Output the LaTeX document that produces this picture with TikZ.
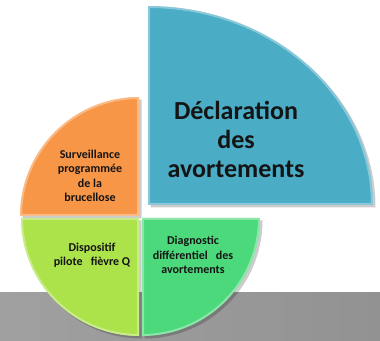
\documentclass[tikz,border=0pt]{standalone}
\usepackage{fontspec}
\setmainfont{Carlito}
\definecolor{cblue}{RGB}{75,172,198}
\definecolor{corange}{RGB}{247,150,70}
\definecolor{cyellow}{RGB}{172,226,74}
\definecolor{cgreen}{RGB}{76,217,123}
\definecolor{bandL}{RGB}{160,160,160}
\definecolor{bandR}{RGB}{146,146,146}
\definecolor{txt}{RGB}{20,20,20}
\tikzset{
  shadowfill/.style={fill=black,opacity=0.2},
  glow/.style={draw=white,opacity=0.35,line width=4pt},
  bigtext/.style={align=center,font=\fontsize{26}{29}\selectfont\bfseries,text=txt,inner sep=0pt},
  smalltext/.style={align=center,font=\fontsize{12}{14.5}\selectfont\bfseries,text=txt,inner sep=0pt}
}
\def\blueshape{(148,135) -- (148,334) arc[start angle=90,end angle=0,x radius=225,y radius=199] -- cycle}
\def\orangeshape{(139,124) -- (20,124) arc[start angle=180,end angle=90,radius=119] -- cycle}
\def\yellowshape{(139,122) -- (139,4) arc[start angle=270,end angle=180,radius=118] -- cycle}
\def\greenshape{(142,122) -- (142,4) arc[start angle=-90,end angle=0,radius=118] -- cycle}
\begin{document}
\begin{tikzpicture}[x=1pt,y=1pt]
\useasboundingbox (0,0) rectangle (380,340);
\fill[left color=bandL,right color=bandR] (0,0) rectangle (380,47);
% shadows
\begin{scope}[shift={(2.5,-2.5)}]
\fill[shadowfill] \blueshape;
\fill[shadowfill] \orangeshape;
\fill[shadowfill] \yellowshape;
\fill[shadowfill] \greenshape;
\end{scope}
% shapes
\fill[cblue] \blueshape;
\begin{scope}\clip \blueshape; \draw[glow] \blueshape; \end{scope}
\fill[corange] \orangeshape;
\begin{scope}\clip \orangeshape; \draw[glow] \orangeshape; \end{scope}
\fill[cyellow] \yellowshape;
\begin{scope}\clip \yellowshape; \draw[glow] \yellowshape; \end{scope}
\fill[cgreen] \greenshape;
\begin{scope}\clip \greenshape; \draw[glow] \greenshape; \end{scope}
% texts
\node[bigtext] (decl) at (236,201) {Déclaration\\des\\avortements};
\node[smalltext] (surv) at (90,164) {Surveillance\\programmée\\de la\\brucellose};
\node[smalltext] (disp) at (92,85) {Dispositif\\pilote\ \ \ fièvre Q};
\node[smalltext] (diag) at (193,85) {Diagnostic\\différentiel\ \ \ des\\avortements};
\end{tikzpicture}
\end{document}
